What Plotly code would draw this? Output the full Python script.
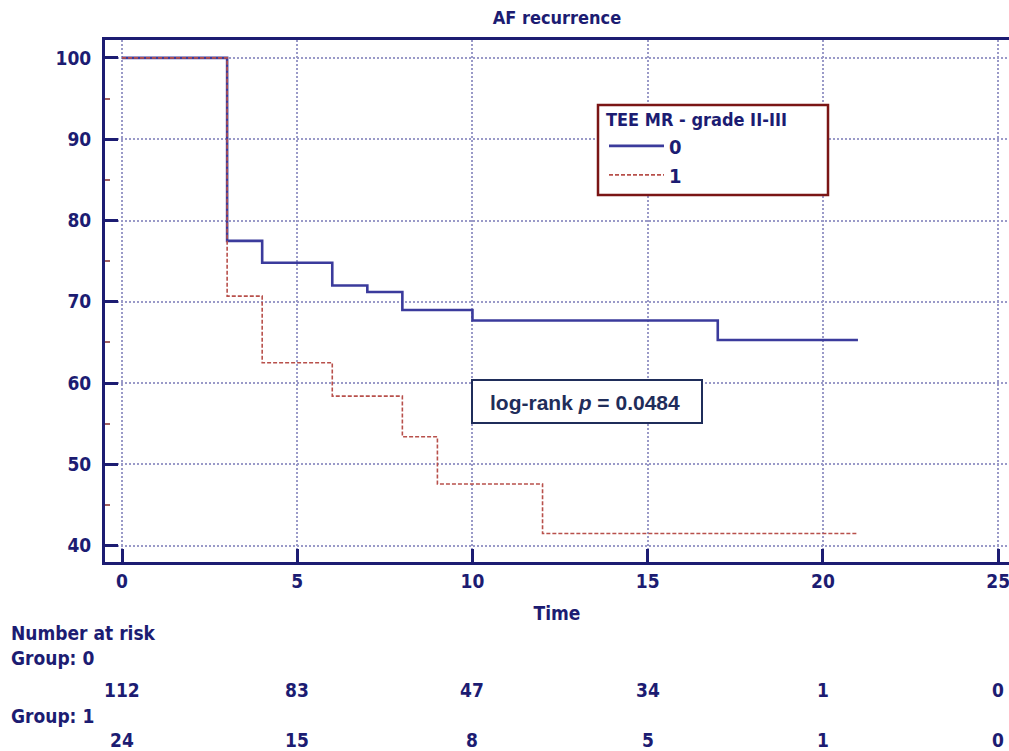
import plotly.graph_objects as go

# ---- data ----
time_g0 = [0, 3, 4, 6, 7, 8, 10, 17, 21]
surv_g0 = [100, 77.5, 74.8, 72.0, 71.2, 69.0, 67.7, 65.3, 65.3]
time_g1 = [0, 3, 4, 6, 8, 9, 12, 21]
surv_g1 = [100, 70.7, 62.5, 58.4, 53.4, 47.6, 41.5, 41.5]
risk_times = [0, 5, 10, 15, 20, 25]
risk_g0 = [112, 83, 47, 34, 1, 0]
risk_g1 = [24, 15, 8, 5, 1, 0]
x_ticks = [0, 5, 10, 15, 20, 25]
y_ticks = [40, 50, 60, 70, 80, 90, 100]

NAVY = "#1c1c72"
FONT = "DejaVu Sans Condensed, DejaVu Sans, sans-serif"

fig = go.Figure()
fig.add_trace(go.Scatter(x=time_g0, y=surv_g0, mode="lines", line_shape="hv",
                         name="<b>0</b>", line=dict(color="#3b3b9c", width=2.6)))
fig.add_trace(go.Scatter(x=time_g1, y=surv_g1, mode="lines", line_shape="hv",
                         name="<b>1</b>", line=dict(color="#b8504b", width=1.6, dash="4px,2px")))

W, H = 1009, 751
ml, mr, mt, mb = 105, 0, 40, 189
pw, ph = W - ml - mr, H - mt - mb

def px_x(p):
    return (p - ml) / pw

def px_y(p):
    return (H - mb - p) / ph

fig.update_layout(
    width=W, height=H,
    margin=dict(l=ml, r=mr, t=mt, b=mb),
    paper_bgcolor="white", plot_bgcolor="white",
    font=dict(family=FONT, color=NAVY, size=17),
    title=dict(text="<b>AF recurrence</b>", x=0.5, xref="paper", xanchor="center",
               y=1 - 18 / H, yanchor="middle", yref="container",
               font=dict(size=18, color=NAVY, family=FONT)),
    showlegend=True,
    legend=dict(title=dict(text="<b>TEE MR - grade II-III</b>", font=dict(size=18, color=NAVY)),
                x=px_x(604), y=px_y(103), xanchor="left", yanchor="top",
                bgcolor="rgba(0,0,0,0)", borderwidth=0, itemwidth=55,
                font=dict(size=20, color=NAVY, family=FONT), tracegroupgap=0),
)

grid_col = "#9a9ac8"
fig.update_xaxes(range=[-0.485, 25.31], tickvals=x_ticks, ticktext=[f"<b>{v}</b>" for v in x_ticks],
                 showgrid=True, gridcolor=grid_col, griddash="2px,2px", gridwidth=1.5,
                 zeroline=False, showline=True, linecolor=NAVY, linewidth=3, mirror=True,
                 ticks="inside", ticklen=13, tickwidth=2.5, tickcolor=NAVY,
                 ticklabeloverflow="allow",
                 tickfont=dict(size=19, color=NAVY),
                 title=dict(text="<b>Time</b>", font=dict(size=19, color=NAVY), standoff=16))
fig.update_yaxes(range=[38.0, 102.2], tickvals=y_ticks, ticktext=[f"<b>{v}</b>" for v in y_ticks],
                 showgrid=True, gridcolor=grid_col, griddash="2px,2px", gridwidth=1.5,
                 zeroline=False, showline=True, linecolor=NAVY, linewidth=3, mirror=False,
                 ticks="inside", ticklen=13, tickwidth=2.5, tickcolor=NAVY,
                 ticklabelstandoff=7,
                 minor=dict(dtick=5, ticks="inside", ticklen=5, tickwidth=1.5, tickcolor="#a06060",
                            showgrid=False),
                 tickfont=dict(size=19, color=NAVY))

# legend frame
fig.add_shape(type="rect", xref="paper", yref="paper",
              x0=px_x(598), x1=px_x(828), y0=px_y(195), y1=px_y(105),
              line=dict(color="#7a1515", width=2.5), fillcolor="white", layer="above")

# log-rank box
fig.add_shape(type="rect", xref="paper", yref="paper",
              x0=px_x(472), x1=px_x(702), y0=px_y(423), y1=px_y(380),
              line=dict(color="#1f2d5a", width=2), fillcolor="white", layer="above")
fig.add_annotation(xref="paper", yref="paper", x=px_x(585), y=px_y(402),
                   xanchor="center", yanchor="middle",
                   text="<b>log-rank <i>p</i> = 0.0484</b>", showarrow=False,
                   font=dict(size=21, color="#1f2d5a", family="Liberation Sans, Arial, sans-serif"))

# number at risk table
labels = [("<b>Number at risk</b>", 633), ("<b>Group: 0</b>", 658), ("<b>Group: 1</b>", 716)]
for txt, py in labels:
    fig.add_annotation(xref="paper", yref="paper", x=px_x(9), y=px_y(py), xanchor="left",
                       yanchor="middle", text=txt, showarrow=False,
                       font=dict(size=19, color=NAVY, family=FONT))
for t, a, b in zip(risk_times, risk_g0, risk_g1):
    fig.add_annotation(xref="x", yref="paper", x=t, y=px_y(690), xanchor="center", yanchor="middle",
                       text=f"<b>{a}</b>", showarrow=False, font=dict(size=19, color=NAVY, family=FONT))
    fig.add_annotation(xref="x", yref="paper", x=t, y=px_y(740), xanchor="center", yanchor="middle",
                       text=f"<b>{b}</b>", showarrow=False, font=dict(size=19, color=NAVY, family=FONT))

fig.write_html("out.html", config={"displayModeBar": False},
               post_script="document.body.style.margin='0';document.body.style.overflow='hidden';")
